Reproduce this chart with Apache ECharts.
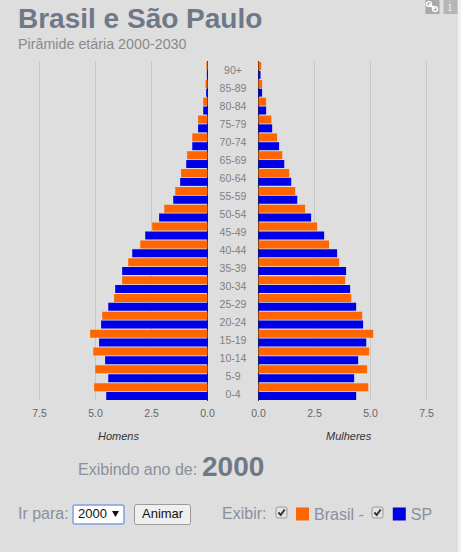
<!DOCTYPE html>
<html><head><meta charset="utf-8">
<script src="https://cdn.jsdelivr.net/npm/echarts@6/dist/echarts.min.js"></script>
<style>html,body{margin:0;padding:0;background:#f1f1f1}#c{width:458px;height:552px}</style>
</head><body><div id="c"></div>
<script>
const ageGroups = ['90+','85-89','80-84','75-79','70-74','65-69','60-64','55-59','50-54','45-49','40-44','35-39','30-34','25-29','20-24','15-19','10-14','5-9','0-4'];
const menBrasil = [0.05,0.09,0.19,0.42,0.68,0.91,1.18,1.44,1.93,2.47,3.0,3.54,3.81,4.17,4.70,5.24,5.10,5.01,5.06];
const menSP = [0.03,0.06,0.19,0.42,0.68,0.95,1.22,1.53,2.16,2.78,3.36,3.81,4.12,4.43,4.75,4.84,4.57,4.43,4.52];
const womenBrasil = [0.12,0.16,0.34,0.57,0.83,1.06,1.37,1.64,2.08,2.62,3.15,3.60,3.87,4.14,4.63,5.12,4.94,4.85,4.90];
const womenSP = [0.09,0.16,0.34,0.61,0.92,1.15,1.46,1.73,2.35,2.93,3.51,3.91,4.09,4.36,4.67,4.81,4.45,4.27,4.36];
const ORANGE='#ff6600', BLUE='#0000e6', FONT='Liberation Sans, Arial, sans-serif';
const xBase={type:'value',min:0,max:7.5,interval:2.5,axisLine:{show:false},axisTick:{show:false},
  axisLabel:{color:'#666',fontSize:10.5,fontFamily:FONT,margin:7,formatter:v=>v.toFixed(1)},
  splitLine:{lineStyle:{color:'#c6c6c6',width:1}}};
const yBase={type:'category',inverse:true,data:ageGroups,axisTick:{show:false},axisLabel:{show:false},
  axisLine:{show:true,lineStyle:{color:'#222',width:1}}};
const bar=(name,color,data,i)=>({name,type:'bar',xAxisIndex:i,yAxisIndex:i,data,barWidth:8,barGap:'10%',
  itemStyle:{color},animation:false,silent:true});
const t=(x,y,text,fontSize,fill,extra)=>({type:'text',left:x,top:y,silent:true,style:Object.assign({text,fontSize,fill,fontFamily:FONT},extra||{})});
const box=(x,y)=>[{type:'rect',shape:{x:x,y:y,width:11,height:11,r:2},style:{fill:'#e4e4e4',stroke:'#9a9a9a',lineWidth:1},silent:true},
  {type:'polyline',shape:{points:[[x+2.5,y+5.5],[x+4.7,y+8],[x+8.7,y+2.5]]},style:{fill:null,stroke:'#333',lineWidth:2},silent:true}];
const chart=echarts.init(document.getElementById('c'),null,{renderer:'svg'});
chart.setOption({
  backgroundColor:'#dedede',animation:false,
  title:[{text:'Brasil e São Paulo',left:18,top:4,padding:0,textStyle:{fontSize:28,fontWeight:'bold',color:'#6f7886',fontFamily:FONT}},
    {text:'Pirâmide etária 2000-2030',left:18,top:37,padding:0,textStyle:{fontSize:14.3,fontWeight:'normal',color:'#8a8a8a',fontFamily:FONT}}],
  legend:{left:296,top:506,padding:0,itemWidth:13,itemHeight:13,itemGap:29,icon:'rect',selectedMode:false,data:['Brasil -','SP'],
    textStyle:{fontSize:16,color:'#8a909c',fontFamily:FONT}},
  grid:[{left:39.5,top:61.5,width:168,height:339},{left:258.5,top:61.5,width:168,height:339},{left:233,top:61,width:20,height:342}],
  xAxis:[Object.assign({},xBase,{gridIndex:0,inverse:true}),Object.assign({},xBase,{gridIndex:1}),
    {type:'value',gridIndex:2,show:false}],
  yAxis:[Object.assign({},yBase,{gridIndex:0,position:'right'}),Object.assign({},yBase,{gridIndex:1,position:'left'}),
    {type:'category',gridIndex:2,inverse:true,data:ageGroups,axisLine:{show:false},axisTick:{show:false},position:'left',
     axisLabel:{show:true,color:'#7f7f7f',fontSize:10.5,fontFamily:FONT,align:'center',margin:0,interval:0}}],
  series:[bar('Brasil -',ORANGE,menBrasil,0),bar('SP',BLUE,menSP,0),bar('Brasil -',ORANGE,womenBrasil,1),bar('SP',BLUE,womenSP,1)],
  graphic:[
    t(98,430,'Homens',11,'#333',{fontStyle:'italic'}),
    t(326,430,'Mulheres',11,'#333',{fontStyle:'italic'}),
    t(78,461,'Exibindo ano de:',16,'#8a909c'),
    t(202,452,'2000',28,'#6f7886',{fontWeight:'bold'}),
    t(18,505,'Ir para:',16,'#8a909c'),
    {type:'rect',shape:{x:73,y:505,width:51,height:19,r:2},style:{fill:'#fff',stroke:'#7f9fe6',lineWidth:1.5},silent:true},
    t(78,507,'2000',13,'#111'),
    {type:'polygon',shape:{points:[[112,511],[119,511],[115.5,517]]},style:{fill:'#111'},silent:true},
    {type:'rect',shape:{x:134.5,y:504.5,width:56,height:20,r:2},style:{fill:'#efefef',stroke:'#9a9a9a',lineWidth:1},silent:true},
    t(142,507,'Animar',13,'#111'),
    t(222,505,'Exibir:',16,'#8a909c'),
    ...box(276,507),...box(372,507),
    {type:'rect',shape:{x:425.5,y:0,width:14,height:14},style:{fill:'#a9a9a9'},silent:true},
    {type:'rect',shape:{x:443.5,y:0,width:14,height:14},style:{fill:'#b5b5b5'},silent:true},
    t(448,1,'i',12,'#e8e8e8',{fontFamily:'DejaVu Serif'}),
    {type:'line',shape:{x1:429,y1:4,x2:435,y2:9},style:{stroke:'#fff',lineWidth:2},silent:true},
    {type:'circle',shape:{cx:429,cy:4,r:2.5},style:{fill:null,stroke:'#fff',lineWidth:1.5},silent:true},
    {type:'circle',shape:{cx:435,cy:9,r:2.5},style:{fill:null,stroke:'#fff',lineWidth:1.5},silent:true}
  ]
});
</script></body></html>
